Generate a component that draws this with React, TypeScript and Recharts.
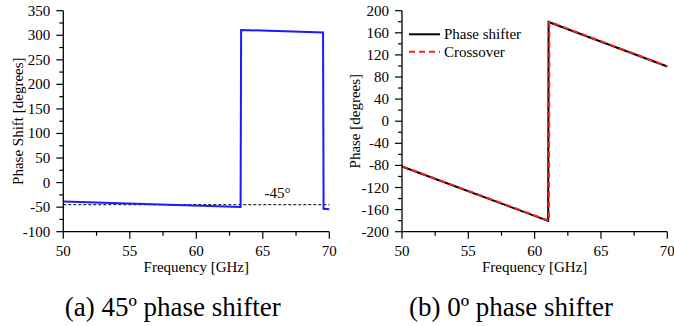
import React from "react";
import { LineChart, Line, XAxis, YAxis, ReferenceLine, ReferenceDot, Label } from "recharts";

const FONT = "'Liberation Serif', 'Times New Roman', serif";

// shared frequency ticks (GHz)
const xTicks = [50, 52.5, 55, 57.5, 60, 62.5, 65, 67.5, 70];

// (a) 45º phase shifter
const freqA = [50, 63.33, 63.37, 69.53, 69.57, 70];
const shiftA = [-38.5, -49.5, 310.8, 305.5, -53.5, -54.5];
const yTicksA = [-100, -75, -50, -25, 0, 25, 50, 75, 100, 125, 150, 175, 200, 225, 250, 275, 300, 325, 350];
const refA = -45;

// (b) 0º phase shifter
const freqPS = [50, 61.02, 61.05, 70];
const phasePS = [-82, -180.5, 179.5, 99];
const freqCO = [50, 61.08, 61.11, 70];
const phaseCO = [-81.5, -180, 180, 99.5];
const yTicksB = [-200, -180, -160, -140, -120, -100, -80, -60, -40, -20, 0, 20, 40, 60, 80, 100, 120, 140, 160, 180, 200];

const dataA = freqA.map((f, i) => ({ f, v: shiftA[i] }));
const dataPS = freqPS.map((f, i) => ({ f, v: phasePS[i] }));
const dataCO = freqCO.map((f, i) => ({ f, v: phaseCO[i] }));

type Side = "left" | "right" | "top" | "bottom";

const tickRenderer = (side: Side, step: number, showLabel: boolean) => (props: any) => {
  const { x, y, payload } = props;
  const v = payload.value;
  const major = Math.abs(v / step - Math.round(v / step)) < 1e-6;
  const len = major ? 7 : 4;
  let line;
  let label = null;
  if (side === "left") {
    line = <line x1={x - len} y1={y} x2={x} y2={y} stroke="#000" strokeWidth={1.2} />;
    if (showLabel && major)
      label = (
        <text x={x - 13} y={y + 5} textAnchor="end" fontFamily={FONT} fontSize={15} fill="#000">
          {v}
        </text>
      );
  } else if (side === "right") {
    line = <line x1={x - len} y1={y} x2={x} y2={y} stroke="#000" strokeWidth={1.2} />;
  } else if (side === "top") {
    line = <line x1={x} y1={y} x2={x} y2={y + len} stroke="#000" strokeWidth={1.2} />;
  } else {
    line = <line x1={x} y1={y} x2={x} y2={y + len} stroke="#000" strokeWidth={1.2} />;
    if (showLabel && major)
      label = (
        <text x={x} y={y + 24} textAnchor="middle" fontFamily={FONT} fontSize={15} fill="#000">
          {v}
        </text>
      );
  }
  return (
    <g>
      {line}
      {label}
    </g>
  );
};

const axisLine = { stroke: "#000", strokeWidth: 1.3 };

const Frame = ({ yTicks, yDomain, yStep, yWidth, yTitle, yTitleDx }: any) => [
  <XAxis
    key="xb"
    xAxisId="b"
    dataKey="f"
    type="number"
    domain={[50, 70]}
    ticks={xTicks}
    interval={0}
    tickSize={0}
    tickMargin={0}
    height={48.3}
    axisLine={axisLine}
    tickLine={false}
    tick={tickRenderer("bottom", 5, true)}
  >
    <Label value="Frequency [GHz]" position="center" dy={11} fontFamily={FONT} fontSize={15} fill="#000" />
  </XAxis>,
  <XAxis
    key="xt"
    xAxisId="t"
    orientation="top"
    dataKey="f"
    type="number"
    domain={[50, 70]}
    ticks={xTicks}
    interval={0}
    tickSize={0}
    tickMargin={0}
    height={0}
    axisLine={axisLine}
    tickLine={false}
    tick={tickRenderer("top", 5, false)}
  />,
  <YAxis
    key="yl"
    yAxisId="l"
    type="number"
    domain={yDomain}
    ticks={yTicks}
    interval={0}
    tickSize={0}
    tickMargin={0}
    width={yWidth}
    axisLine={axisLine}
    tickLine={false}
    tick={tickRenderer("left", yStep, true)}
  >
    <Label value={yTitle} position="center" angle={-90} dx={yTitleDx} fontFamily={FONT} fontSize={15} fill="#000" />
  </YAxis>,
  <YAxis
    key="yr"
    yAxisId="r"
    orientation="right"
    type="number"
    domain={yDomain}
    ticks={yTicks}
    interval={0}
    tickSize={0}
    tickMargin={0}
    width={0}
    axisLine={axisLine}
    tickLine={false}
    tick={tickRenderer("right", yStep, false)}
  />,
];

export default function App() {
  return (
    <div style={{ position: "absolute", left: 0, top: 0, width: 674, height: 326, background: "#fff" }}>
      <div style={{ position: "absolute", left: 0, top: 0 }}>
        <LineChart width={340} height={280} margin={{ top: 10.7, right: 10.7, left: 0, bottom: 0 }}>
          {Frame({ yTicks: yTicksA, yDomain: [-100, 350], yStep: 50, yWidth: 63.3, yTitle: "Phase Shift [degrees]", yTitleDx: -14 })}
          <ReferenceLine xAxisId="b" yAxisId="l" y={refA} stroke="#000" strokeWidth={1} strokeDasharray="3 2" />
          <Line
            xAxisId="b"
            yAxisId="l"
            data={dataA}
            dataKey="v"
            type="linear"
            stroke="#1a1aff"
            strokeWidth={2}
            dot={false}
            isAnimationActive={false}
          />
          <ReferenceDot
            xAxisId="b"
            yAxisId="l"
            x={66.1}
            y={-21}
            r={0}
            stroke="none"
            label={{ value: "-45°", position: "center", fontFamily: FONT, fontSize: 15, fill: "#000" }}
          />
        </LineChart>
      </div>
      <div style={{ position: "absolute", left: 340, top: 0 }}>
        <LineChart width={334} height={280} margin={{ top: 10.7, right: 6.7, left: 0, bottom: 0 }}>
          {Frame({ yTicks: yTicksB, yDomain: [-200, 200], yStep: 40, yWidth: 62, yTitle: "Phase [degrees]", yTitleDx: -16 })}
          <Line
            xAxisId="b"
            yAxisId="l"
            data={dataPS}
            dataKey="v"
            type="linear"
            stroke="#000"
            strokeWidth={2}
            dot={false}
            isAnimationActive={false}
          />
          <Line
            xAxisId="b"
            yAxisId="l"
            data={dataCO}
            dataKey="v"
            type="linear"
            stroke="#ff2020"
            strokeWidth={2}
            strokeDasharray="6 4"
            dot={false}
            isAnimationActive={false}
          />
        </LineChart>
        <svg width={150} height={60} style={{ position: "absolute", left: 60, top: 20 }}>
          <line x1={9} y1={14.3} x2={40} y2={14.3} stroke="#000" strokeWidth={2} />
          <text x={44} y={19} fontFamily={FONT} fontSize={15} fill="#000">Phase shifter</text>
          <line x1={9} y1={31.7} x2={40} y2={31.7} stroke="#ff2020" strokeWidth={2} strokeDasharray="6 4" />
          <text x={44} y={36.5} fontFamily={FONT} fontSize={15} fill="#000">Crossover</text>
        </svg>
      </div>
      <svg width={674} height={56} style={{ position: "absolute", left: 0, top: 270 }}>
        <text x={172.7} y={46} textAnchor="middle" fontFamily={FONT} fontSize={27} fill="#000">(a) 45º phase shifter</text>
        <text x={511} y={46} textAnchor="middle" fontFamily={FONT} fontSize={27} fill="#000">(b) 0º phase shifter</text>
      </svg>
    </div>
  );
}
